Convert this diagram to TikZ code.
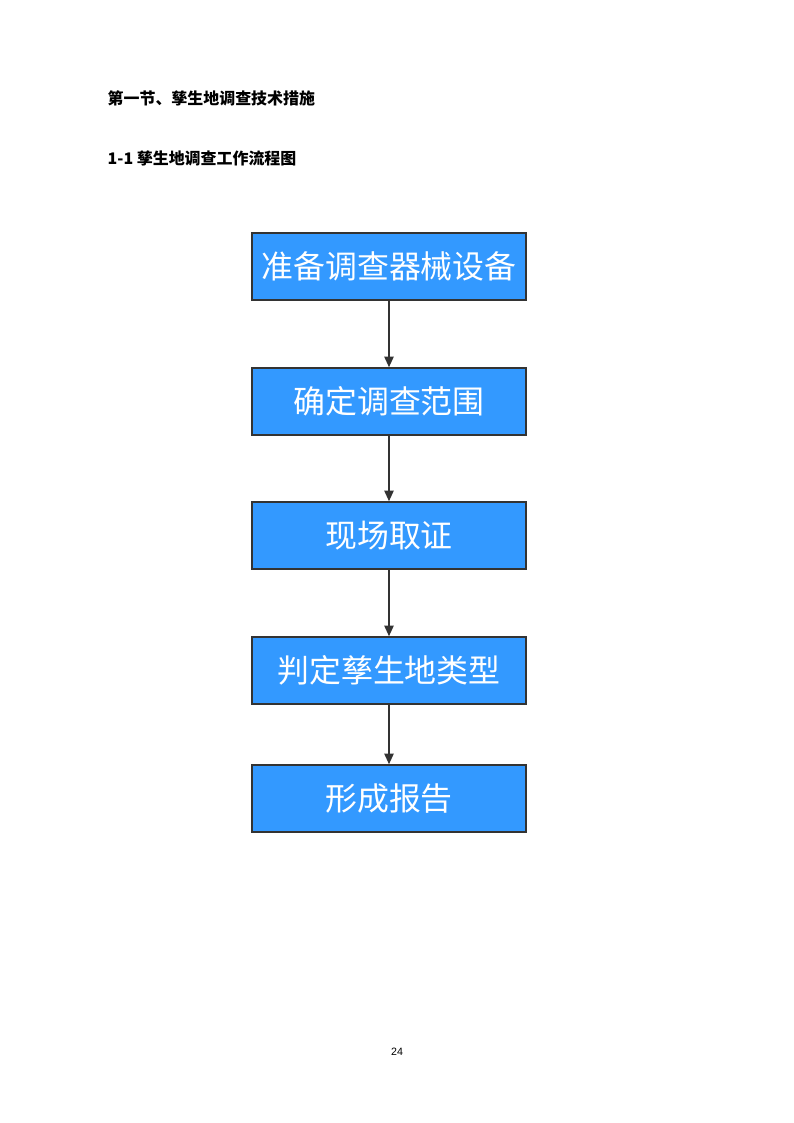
\documentclass[tikz,border=0pt]{standalone}
\usepackage{fontspec}
\setmainfont{Liberation Sans}
\newfontfamily\cjk{Noto Sans CJK SC}
\usetikzlibrary{positioning,arrows.meta}
\definecolor{boxblue}{HTML}{3399FF}
\definecolor{edgegray}{HTML}{333333}
\tikzset{
  flowbox/.style={draw=edgegray,line width=1.2pt,fill=boxblue,minimum width=7.25cm,
    minimum height=1.77cm,text=white,font=\cjk\fontsize{24}{28}\selectfont},
  flowarrow/.style={draw=edgegray,line width=1.2pt,-{Triangle[length=8pt,width=7pt]}}
}
\begin{document}
\begin{tikzpicture}[x=0.02645cm,y=-0.02645cm]
  \useasboundingbox (0,0) rectangle (794,1123);
  \node[anchor=west,font=\cjk\bfseries\fontsize{12}{14}\selectfont] (title) at (103,98) {第一节、孳生地调查技术措施};
  \node[anchor=west,font=\cjk\bfseries\fontsize{12}{14}\selectfont] (subtitle) at (103,158) {1-1 孳生地调查工作流程图};
  \node[flowbox] (prepare) at (389,266.5) {准备调查器械设备};
  \node[flowbox] (scope) at (389,401.5) {确定调查范围};
  \node[flowbox] (evidence) at (389,535.5) {现场取证};
  \node[flowbox] (judge) at (389,670.5) {判定孳生地类型};
  \node[flowbox] (report) at (389,798.5) {形成报告};
  \foreach \a/\b in {prepare/scope,scope/evidence,evidence/judge,judge/report}
    \draw[flowarrow] (\a) -- (\b);
  \node[font=\fontsize{8}{10}\selectfont] (page) at (397,1052) {24};
\end{tikzpicture}
\end{document}
